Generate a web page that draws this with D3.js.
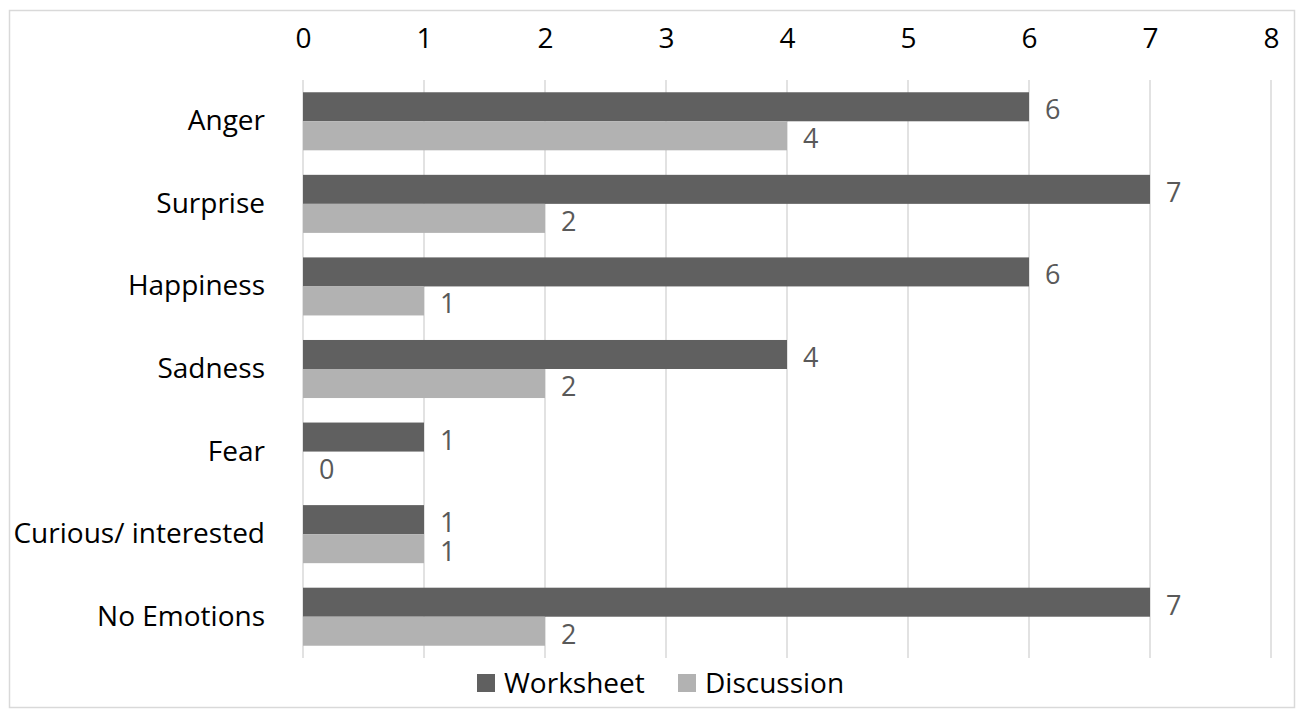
<!DOCTYPE html>
<html><head><meta charset="utf-8">
<script src="https://cdn.jsdelivr.net/npm/d3@7"></script>
<style>body{margin:0;background:#fff;} svg{display:block;}</style>
</head><body>
<svg id="chart" width="1301" height="717"></svg>
<script>
const categories = ["Anger","Surprise","Happiness","Sadness","Fear","Curious/ interested","No Emotions"];
const seriesNames = ["Worksheet","Discussion"];
const worksheet = [6,7,6,4,1,1,7];
const discussion = [4,2,1,2,0,1,2];
const xTicks = [0,1,2,3,4,5,6,7,8];
const colors = ["#606060","#b2b2b2"];

(function(){
const svg = d3.select("#chart");
const font = "'Open Sans', sans-serif";
svg.append("rect").attr("x",9.5).attr("y",10.5).attr("width",1285).attr("height",697)
  .attr("fill","#fff").attr("stroke","#d9d9d9").attr("stroke-width",1.5);

const pLeft = 303, pRight = 1271, pTop = 80, pBottom = 658;
const x = d3.scaleLinear().domain([0,8]).range([pLeft,pRight]);
const y = d3.scaleBand().domain(categories).range([pTop,pBottom]).paddingInner(0.297).paddingOuter(0.1485);
const ySub = d3.scaleBand().domain(seriesNames).range([0,y.bandwidth()]);

svg.append("g").selectAll("line").data(xTicks).join("line")
  .attr("x1",d=>x(d)).attr("x2",d=>x(d)).attr("y1",pTop).attr("y2",pBottom)
  .attr("stroke","#d9d9d9").attr("stroke-width",1.5);

const xAxis = d3.axisTop(x).tickValues(xTicks).tickSize(0).tickPadding(0).tickFormat(d3.format("d"));
const gx = svg.append("g").attr("transform","translate(0,48)").call(xAxis);
gx.select(".domain").remove();
gx.selectAll("text").attr("font-family",font).attr("font-size",28).attr("fill","#000");

const yAxis = d3.axisLeft(y).tickSize(0).tickPadding(38);
const gy = svg.append("g").attr("transform",`translate(${pLeft},0)`).call(yAxis);
gy.select(".domain").remove();
gy.selectAll("text").attr("font-family",font).attr("font-size",28).attr("fill","#000");

const data = [worksheet, discussion];
data.forEach((vals,si)=>{
  const g = svg.append("g");
  g.selectAll("rect").data(vals).join("rect")
    .attr("x",x(0)).attr("y",(d,i)=>y(categories[i])+ySub(seriesNames[si]))
    .attr("width",d=>x(d)-x(0)).attr("height",ySub.bandwidth())
    .attr("fill",colors[si]);
  g.selectAll("text").data(vals).join("text")
    .attr("x",d=>x(d)+16).attr("y",(d,i)=>y(categories[i])+ySub(seriesNames[si])+ySub.bandwidth()/2+3)
    .attr("dy","0.35em").attr("font-family",font).attr("font-size",27).attr("fill","#595959")
    .text(d=>d);
});

const legendItems = [{name:seriesNames[0],x:477,c:colors[0]},{name:seriesNames[1],x:678,c:colors[1]}];
const lg = svg.append("g");
legendItems.forEach(it=>{
  lg.append("rect").attr("x",it.x).attr("y",674).attr("width",18).attr("height",18).attr("fill",it.c);
  lg.append("text").attr("x",it.x+27).attr("y",683).attr("dy","0.35em")
    .attr("font-family",font).attr("font-size",28).attr("fill","#000").text(it.name);
});
})();
</script>
</body></html>
